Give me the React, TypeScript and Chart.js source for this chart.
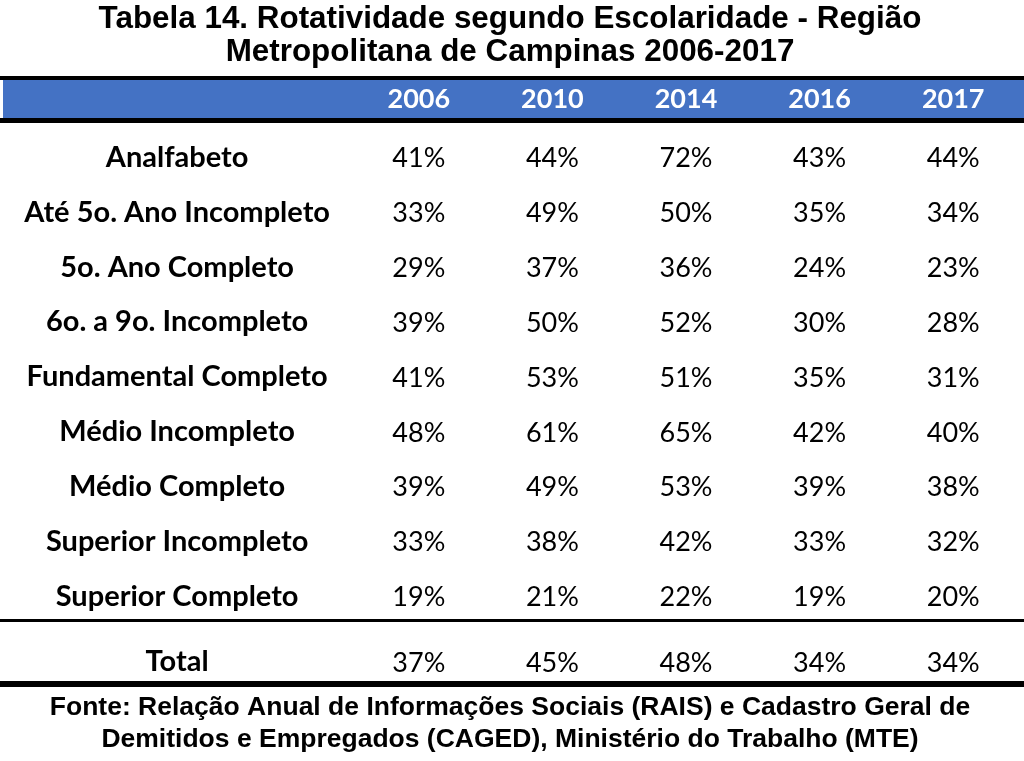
import React, { useEffect, useRef } from 'react';
import { Chart, registerables } from 'chart.js';

Chart.register(...registerables);

const TITLE = ['Tabela 14. Rotatividade segundo Escolaridade - Região', 'Metropolitana de Campinas 2006-2017'];
const FOOTER = ['Fonte: Relação Anual de Informações Sociais (RAIS) e Cadastro Geral de', 'Demitidos e Empregados (CAGED), Ministério do Trabalho (MTE)'];
const YEARS = ['2006', '2010', '2014', '2016', '2017'];
const LEVELS = [
  'Analfabeto',
  'Até 5o. Ano Incompleto',
  '5o. Ano Completo',
  '6o. a 9o. Incompleto',
  'Fundamental Completo',
  'Médio Incompleto',
  'Médio Completo',
  'Superior Incompleto',
  'Superior Completo',
];
const V2006 = [41, 33, 29, 39, 41, 48, 39, 33, 19];
const V2010 = [44, 49, 37, 50, 53, 61, 49, 38, 21];
const V2014 = [72, 50, 36, 52, 51, 65, 53, 42, 22];
const V2016 = [43, 35, 24, 30, 35, 42, 39, 33, 19];
const V2017 = [44, 34, 23, 28, 31, 40, 38, 32, 20];
const TOTAL_LABEL = ['Total'];
const TOTAL = [37, 45, 48, 34, 34];

const SERIES = [V2006, V2010, V2014, V2016, V2017];

const BLUE = '#4472C4';
const LABEL_FONT = { family: 'Lato', size: 29, weight: 'bold' as const };
const LABEL_CSS = 'bold 29px Lato';
const VALUE_FONT = '27px Lato';
const W = 1024;
const H = 761;
const TOP_H = 626;
const AXIS_W = 352;
const BASE_PAD = 22;

function widest(labels: string[]) {
  const ctx = document.createElement('canvas').getContext('2d')!;
  ctx.font = LABEL_CSS;
  return Math.max(...labels.map((l) => ctx.measureText(l).width));
}

const cellText = {
  id: 'cellText',
  afterDatasetsDraw(chart: any) {
    const ctx = chart.ctx;
    ctx.save();
    ctx.font = VALUE_FONT;
    ctx.fillStyle = '#000';
    ctx.textAlign = 'center';
    ctx.textBaseline = 'middle';
    chart.data.datasets.forEach((ds: any, di: number) => {
      const meta = chart.getDatasetMeta(di);
      meta.data.forEach((el: any, i: number) => {
        ctx.fillText(ds.data[i].v + '%', el.x, el.y + 1);
      });
    });
    ctx.restore();
  },
};

const rulesTop = {
  id: 'rulesTop',
  beforeDraw(chart: any) {
    const ctx = chart.ctx;
    const xs = chart.scales.x;
    const ca = chart.chartArea;
    ctx.save();
    ctx.fillStyle = '#000';
    ctx.fillRect(0, xs.top, chart.width, 4);
    ctx.fillStyle = BLUE;
    ctx.fillRect(3, xs.top + 4, chart.width - 3, 38);
    ctx.fillStyle = '#000';
    ctx.fillRect(0, xs.top + 42, chart.width, 5);
    ctx.fillRect(0, ca.bottom - 5, chart.width, 3);
    ctx.restore();
  },
};

const rulesBottom = {
  id: 'rulesBottom',
  beforeDraw(chart: any) {
    const ctx = chart.ctx;
    const ca = chart.chartArea;
    ctx.save();
    ctx.fillStyle = '#000';
    ctx.fillRect(0, ca.bottom - 9, chart.width, 6);
    ctx.restore();
  },
};

function buildDatasets(rows: string[], cols: number[][]) {
  return YEARS.map((year, j) => ({
    label: year,
    data: rows.map((row, i) => ({ x: year, y: row, v: cols[j][i] })),
    pointRadius: 0,
    pointHoverRadius: 0,
    showLine: false,
  }));
}

function yAxis(labels: string[], padding: number) {
  return {
    type: 'category' as const,
    labels,
    offset: true,
    grid: { display: false, drawTicks: false },
    border: { display: false },
    ticks: {
      crossAlign: 'center' as const,
      padding,
      color: '#000',
      font: LABEL_FONT,
      autoSkip: false,
    },
    afterFit(scale: any) {
      scale.width = AXIS_W;
      scale.paddingTop = 0;
      scale.paddingBottom = 0;
    },
  };
}

export default function App() {
  const topRef = useRef<HTMLCanvasElement>(null);
  const botRef = useRef<HTMLCanvasElement>(null);

  useEffect(() => {
    document.body.style.margin = '0';
    const wLevels = widest(LEVELS);
    const wTotal = widest(TOTAL_LABEL);
    const totalPad = BASE_PAD + (wLevels - wTotal) / 2;

    const top = new Chart(topRef.current!, {
      type: 'scatter',
      data: { datasets: buildDatasets(LEVELS, SERIES) as any },
      plugins: [rulesTop, cellText],
      options: {
        animation: false,
        responsive: false,
        devicePixelRatio: 1,
        events: [],
        layout: { padding: { top: 0, right: 4, bottom: 2, left: 0 } },
        plugins: {
          legend: { display: false },
          tooltip: { enabled: false },
          title: {
            display: true,
            text: TITLE,
            color: '#000',
            font: { family: 'Liberation Sans', size: 31.4, weight: 'bold', lineHeight: 33 / 31.4 },
            padding: { top: 3, bottom: 7 },
          },
        },
        scales: {
          x: {
            type: 'category',
            labels: YEARS,
            position: 'top',
            offset: true,
            grid: { display: false, drawTicks: false },
            border: { display: false },
            ticks: {
              color: '#fff',
              font: { family: 'Lato', size: 27, weight: 'bold' },
              padding: 15,
              maxRotation: 0,
              autoSkip: false,
            },
            afterFit(scale: any) {
              scale.height = 54;
            },
          },
          y: yAxis(LEVELS, BASE_PAD),
        },
      } as any,
    });

    const bottom = new Chart(botRef.current!, {
      type: 'scatter',
      data: { datasets: buildDatasets(TOTAL_LABEL, TOTAL.map((t) => [t])) as any },
      plugins: [rulesBottom, cellText],
      options: {
        animation: false,
        responsive: false,
        devicePixelRatio: 1,
        events: [],
        layout: { padding: { top: 8, right: 4, bottom: 0, left: 0 } },
        plugins: {
          legend: { display: false },
          tooltip: { enabled: false },
          title: {
            display: true,
            position: 'bottom',
            text: FOOTER,
            color: '#000',
            font: { family: 'Liberation Sans', size: 26.5, weight: 'bold', lineHeight: 32 / 26.5 },
            padding: { top: 2, bottom: 5 },
          },
        },
        scales: {
          x: {
            type: 'category',
            labels: YEARS,
            offset: true,
            display: false,
          },
          y: yAxis(TOTAL_LABEL, totalPad),
        },
      } as any,
    });

    return () => {
      top.destroy();
      bottom.destroy();
    };
  }, []);

  return (
    <div style={{ position: 'absolute', left: 0, top: 0, width: W, height: H, background: '#fff' }}>
      <canvas ref={topRef} width={W} height={TOP_H} style={{ position: 'absolute', left: 0, top: 0 }} />
      <canvas ref={botRef} width={W} height={H - TOP_H} style={{ position: 'absolute', left: 0, top: TOP_H }} />
    </div>
  );
}
